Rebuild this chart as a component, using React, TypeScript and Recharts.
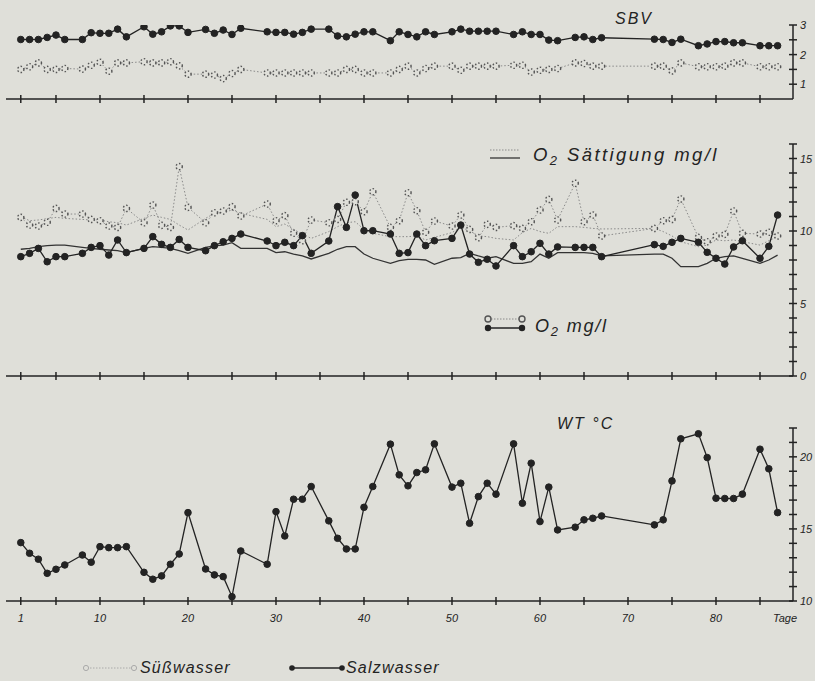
import React from "react"
import { LineChart, Line, XAxis, YAxis } from "recharts"

const days = [1, 2, 3, 4, 5, 6, 8, 9, 10, 11, 12, 13, 15, 16, 17, 18, 19, 20, 22, 23, 24, 25, 26, 29, 30, 31, 32, 33, 34, 36, 37, 38, 39, 40, 41, 43, 44, 45, 46, 47, 48, 50, 51, 52, 53, 54, 55, 57, 58, 59, 60, 61, 62, 64, 65, 66, 67, 73, 74, 75, 76, 78, 79, 80, 81, 82, 83, 85, 86, 87]

// SBV
const sbvSalz = [2.51, 2.51, 2.51, 2.58, 2.66, 2.51, 2.51, 2.74, 2.72, 2.72, 2.86, 2.6, 2.94, 2.69, 2.77, 2.97, 2.97, 2.75, 2.85, 2.72, 2.83, 2.68, 2.89, 2.77, 2.75, 2.75, 2.69, 2.75, 2.86, 2.86, 2.63, 2.6, 2.69, 2.77, 2.77, 2.47, 2.77, 2.68, 2.6, 2.77, 2.68, 2.77, 2.86, 2.79, 2.79, 2.79, 2.79, 2.68, 2.77, 2.68, 2.68, 2.49, 2.47, 2.58, 2.6, 2.51, 2.57, 2.52, 2.51, 2.41, 2.52, 2.3, 2.36, 2.44, 2.44, 2.4, 2.4, 2.3, 2.3, 2.3]
const sbvSuess = [1.5, 1.59, 1.72, 1.5, 1.5, 1.53, 1.51, 1.64, 1.74, 1.44, 1.72, 1.72, 1.76, 1.72, 1.72, 1.76, 1.62, 1.34, 1.34, 1.31, 1.19, 1.36, 1.5, 1.38, 1.38, 1.38, 1.38, 1.38, 1.38, 1.38, 1.38, 1.5, 1.5, 1.38, 1.38, 1.38, 1.5, 1.61, 1.38, 1.53, 1.61, 1.61, 1.47, 1.61, 1.61, 1.61, 1.61, 1.64, 1.64, 1.41, 1.47, 1.5, 1.53, 1.72, 1.7, 1.61, 1.61, 1.61, 1.61, 1.45, 1.72, 1.59, 1.59, 1.59, 1.61, 1.72, 1.72, 1.59, 1.59, 1.59]

// O2 mg/l
const o2Salz = [8.23, 8.46, 8.8, 7.88, 8.23, 8.23, 8.46, 8.87, 8.99, 8.34, 9.38, 8.51, 8.8, 9.61, 9.08, 8.87, 9.42, 8.87, 8.64, 8.99, 9.26, 9.49, 9.79, 9.31, 8.99, 9.22, 8.99, 9.68, 8.46, 9.31, 11.68, 10.25, 12.48, 10.02, 10.02, 9.79, 8.46, 8.51, 9.79, 8.99, 9.33, 9.49, 10.41, 8.41, 7.84, 8.05, 7.59, 8.99, 8.23, 8.57, 9.15, 8.41, 8.9, 8.87, 8.87, 8.87, 8.23, 9.06, 8.94, 9.22, 9.49, 9.22, 8.53, 8.12, 7.72, 8.9, 9.33, 8.12, 8.94, 11.1]
const o2Suess = [10.94, 10.41, 10.34, 10.6, 11.56, 11.17, 11.17, 10.8, 10.71, 10.34, 10.25, 11.56, 10.57, 11.79, 10.39, 10.25, 14.44, 11.63, 10.57, 11.26, 11.38, 11.68, 11.03, 11.86, 10.71, 11.06, 9.84, 9.33, 10.76, 10.57, 10.8, 11.98, 12.02, 11.33, 12.71, 10.25, 10.71, 12.64, 11.4, 9.91, 10.69, 10.34, 11.1, 10.11, 9.54, 10.46, 10.25, 10.37, 10.18, 10.64, 11.45, 12.18, 10.76, 13.29, 10.64, 11.1, 9.66, 10.18, 10.71, 10.8, 12.21, 9.56, 9.26, 9.66, 9.77, 11.38, 9.84, 9.79, 9.91, 9.66]

// O2 Sättigung mg/l
const satSalz = [8.74, 8.8, 8.92, 8.99, 9.03, 9.03, 8.87, 8.8, 8.74, 8.69, 8.64, 8.51, 8.8, 8.92, 8.87, 8.8, 8.64, 8.46, 8.87, 8.97, 9.03, 9.19, 8.8, 8.8, 8.51, 8.57, 8.41, 8.28, 8.07, 8.46, 8.74, 8.92, 8.92, 8.41, 8.12, 7.77, 7.95, 8.05, 8.05, 8.0, 7.7, 8.12, 8.16, 8.46, 8.28, 8.12, 8.23, 7.77, 7.77, 7.88, 8.41, 8.12, 8.51, 8.51, 8.51, 8.46, 8.28, 8.41, 8.41, 8.12, 7.54, 7.54, 7.77, 8.12, 8.23, 8.28, 8.12, 7.77, 8.0, 8.34]
const satSuess = [10.99, 10.71, 10.76, 10.85, 10.94, 10.87, 10.8, 10.76, 10.76, 10.64, 10.57, 10.41, 10.87, 11.1, 10.94, 10.8, 10.41, 10.07, 10.87, 11.22, 11.26, 11.45, 11.22, 10.8, 10.3, 10.48, 10.11, 9.79, 9.49, 9.96, 10.3, 10.57, 10.64, 10.11, 9.84, 9.61, 9.61, 9.61, 9.66, 9.38, 9.56, 9.89, 10.25, 10.02, 9.66, 9.61, 9.49, 9.38, 9.89, 10.18, 9.96, 9.84, 10.3, 10.3, 10.25, 10.18, 10.14, 10.18, 9.96, 9.66, 9.26, 8.92, 9.03, 9.38, 9.33, 9.38, 9.26, 9.03, 9.33, 9.61]

// WT °C
const wtSalz = [14.05, 13.31, 12.9, 11.92, 12.2, 12.5, 13.19, 12.69, 13.77, 13.7, 13.7, 13.77, 11.99, 11.51, 11.74, 12.55, 13.26, 16.13, 12.22, 11.81, 11.69, 10.3, 13.47, 12.55, 16.2, 14.51, 17.06, 17.06, 17.94, 15.56, 14.35, 13.61, 13.61, 16.5, 17.94, 20.88, 18.75, 17.99, 18.91, 19.1, 20.9, 17.9, 18.17, 15.39, 17.24, 18.17, 17.41, 20.9, 16.78, 19.56, 15.51, 17.9, 14.93, 15.12, 15.63, 15.74, 15.9, 15.28, 15.63, 18.33, 21.25, 21.6, 19.95, 17.13, 17.11, 17.11, 17.41, 20.53, 19.17, 16.13]

const xTicks = [1, 5, 10, 15, 20, 25, 30, 35, 40, 45, 50, 55, 60, 65, 70, 75, 80, 85]
const xLabels = [1, 10, 20, 30, 40, 50, 60, 70, 80]

const data = days.map((day, i) => ({
  day,
  sbvSalz: sbvSalz[i],
  sbvSuess: sbvSuess[i],
  o2Salz: o2Salz[i],
  o2Suess: o2Suess[i],
  satSalz: satSalz[i],
  satSuess: satSuess[i],
  wtSalz: wtSalz[i],
}))

const PAPER = "#dfdfd9"
const INK = "#232323"
const GREY = "#8a8a8a"
const FONT = "'Liberation Sans', Arial, sans-serif"
const xDomain = [-0.68, 88.75]

// eslint-disable-next-line @typescript-eslint/no-explicit-any
function XTick(props: any) {
  const { x, y, payload, showLabels } = props
  const v = payload.value
  return (
    <g>
      <line x1={x} x2={x} y1={y - 4} y2={y + 4} stroke={INK} strokeWidth={1.5} />
      {showLabels && xLabels.includes(v) && (
        <text x={x} y={y + 21} textAnchor="middle" fontSize={11} fontStyle="italic" fill={INK} fontFamily={FONT}>
          {v}
        </text>
      )}
      {showLabels && v === 85 && (
        <text x={x + 25} y={y + 21} textAnchor="middle" fontSize={11} fontStyle="italic" fill={INK} fontFamily={FONT}>
          Tage
        </text>
      )}
    </g>
  )
}

// eslint-disable-next-line @typescript-eslint/no-explicit-any
function RTick(props: any) {
  const { x, y, payload, labels } = props
  const v = payload.value
  return (
    <g>
      <line x1={x - 4} x2={x + 4} y1={y} y2={y} stroke={INK} strokeWidth={1.5} />
      {labels.includes(v) && (
        <text x={x + 7} y={y + 4} fontSize={11} fontStyle="italic" fill={INK} fontFamily={FONT}>
          {v}
        </text>
      )}
    </g>
  )
}

const salzDot = { r: 3.3, fill: INK, stroke: INK, strokeWidth: 1 }
const suessDot = { r: 3.1, fill: PAPER, stroke: "#555", strokeWidth: 1.4 }

function Panel({
  top,
  height,
  marginTop,
  xHeight,
  domain,
  ticks,
  labels,
  showLabels,
  children,
}: {
  top: number
  height: number
  marginTop: number
  xHeight: number
  domain: number[]
  ticks: number[]
  labels: number[]
  showLabels?: boolean
  children: React.ReactNode
}) {
  return (
    <div style={{ position: "absolute", left: 0, top }}>
      <LineChart width={815} height={height} data={data} margin={{ top: marginTop, right: 0, bottom: 0, left: 6 }}>
        <XAxis
          type="number"
          dataKey="day"
          domain={xDomain}
          ticks={xTicks}
          interval={0}
          allowDataOverflow
          height={xHeight}
          axisLine={{ stroke: INK, strokeWidth: 1.5 }}
          tickLine={false}
          tickSize={0}
          tickMargin={0}
          tick={<XTick showLabels={showLabels} />}
        />
        <YAxis yAxisId="l" orientation="left" width={0} domain={domain} tick={false} axisLine={{ stroke: INK, strokeWidth: 1.5 }} />
        <YAxis
          yAxisId="r"
          orientation="right"
          width={22}
          domain={domain}
          ticks={ticks}
          interval={0}
          allowDataOverflow
          axisLine={{ stroke: INK, strokeWidth: 1.5 }}
          tickLine={false}
          tickSize={0}
          tickMargin={0}
          tick={<RTick labels={labels} />}
        />
        {children}
      </LineChart>
    </div>
  )
}

export default function App() {
  const txt = { fontFamily: FONT, fontStyle: "italic" as const, fill: INK }
  return (
    <div style={{ position: "absolute", left: 0, top: 0, width: 815, height: 681, background: PAPER, overflow: "hidden" }}>
      <Panel top={0} height={112} marginTop={25} xHeight={13} domain={[0.5, 3]} ticks={[1, 1.5, 2, 2.5, 3]} labels={[1, 2, 3]}>
        <Line yAxisId="r" dataKey="sbvSuess" stroke={GREY} strokeWidth={1} strokeDasharray="1.5 2" dot={suessDot} activeDot={false} isAnimationActive={false} />
        <Line yAxisId="r" dataKey="sbvSalz" stroke={INK} strokeWidth={1.3} dot={salzDot} activeDot={false} isAnimationActive={false} />
      </Panel>

      <Panel top={130} height={260} marginTop={14} xHeight={14} domain={[0, 16]} ticks={[0, 1, 2, 3, 4, 5, 6, 7, 8, 9, 10, 11, 12, 13, 14, 15, 16]} labels={[0, 5, 10, 15]}>
        <Line yAxisId="r" dataKey="satSuess" stroke={GREY} strokeWidth={1} strokeDasharray="1.5 2" dot={false} activeDot={false} isAnimationActive={false} />
        <Line yAxisId="r" dataKey="satSalz" stroke="#333" strokeWidth={1.3} dot={false} activeDot={false} isAnimationActive={false} />
        <Line yAxisId="r" dataKey="o2Suess" stroke={GREY} strokeWidth={1} strokeDasharray="1.5 2" dot={suessDot} activeDot={false} isAnimationActive={false} />
        <Line yAxisId="r" dataKey="o2Salz" stroke={INK} strokeWidth={1.3} dot={salzDot} activeDot={false} isAnimationActive={false} />
      </Panel>

      <Panel top={400} height={240} marginTop={28} xHeight={39} domain={[10, 22]} ticks={[10, 11, 12, 13, 14, 15, 16, 17, 18, 19, 20, 21, 22]} labels={[10, 15, 20]} showLabels>
        <Line yAxisId="r" dataKey="wtSalz" stroke={INK} strokeWidth={1.3} dot={salzDot} activeDot={false} isAnimationActive={false} />
      </Panel>

      <svg width={815} height={681} style={{ position: "absolute", left: 0, top: 0, pointerEvents: "none" }}>
        <text x={615} y={24} fontSize={16} letterSpacing={2} {...txt}>SBV</text>

        <line x1={490} x2={520} y1={150} y2={150} stroke={GREY} strokeWidth={1} strokeDasharray="1.5 1.5" />
        <line x1={490} x2={520} y1={158} y2={158} stroke="#333" strokeWidth={1.3} />
        <text x={533} y={161} fontSize={18.5} letterSpacing={2.4} {...txt}>
          O<tspan fontSize={13} dy={4}>2</tspan>
          <tspan dy={-4}> Sättigung  mg/l</tspan>
        </text>

        <line x1={488} x2={522} y1={319} y2={319} stroke={GREY} strokeWidth={1} strokeDasharray="1.5 1.5" />
        <circle cx={488} cy={319} r={3} fill={PAPER} stroke="#555" strokeWidth={1.4} />
        <circle cx={522} cy={319} r={3} fill={PAPER} stroke="#555" strokeWidth={1.4} />
        <line x1={488} x2={522} y1={328} y2={328} stroke={INK} strokeWidth={1.3} />
        <circle cx={488} cy={328} r={3.2} fill={INK} />
        <circle cx={522} cy={328} r={3.2} fill={INK} />
        <text x={535} y={332} fontSize={18} letterSpacing={1.8} {...txt}>
          O<tspan fontSize={13} dy={4}>2</tspan>
          <tspan dy={-4}> mg/l</tspan>
        </text>

        <text x={557} y={429} fontSize={16} letterSpacing={2} {...txt}>WT °C</text>

        <line x1={84} x2={136} y1={668} y2={668} stroke="#aaa" strokeWidth={1} strokeDasharray="1.5 1.5" />
        <circle cx={86} cy={668} r={2.6} fill={PAPER} stroke="#aaa" strokeWidth={1} />
        <circle cx={134} cy={668} r={2.6} fill={PAPER} stroke="#aaa" strokeWidth={1} />
        <text x={140} y={673} fontSize={16} letterSpacing={1.2} {...txt}>Süßwasser</text>

        <line x1={292} x2={342} y1={668} y2={668} stroke={INK} strokeWidth={1.3} />
        <circle cx={292} cy={668} r={2.8} fill={INK} />
        <circle cx={342} cy={668} r={2.8} fill={INK} />
        <text x={346} y={673} fontSize={16} letterSpacing={1.2} {...txt}>Salzwasser</text>
      </svg>
    </div>
  )
}
